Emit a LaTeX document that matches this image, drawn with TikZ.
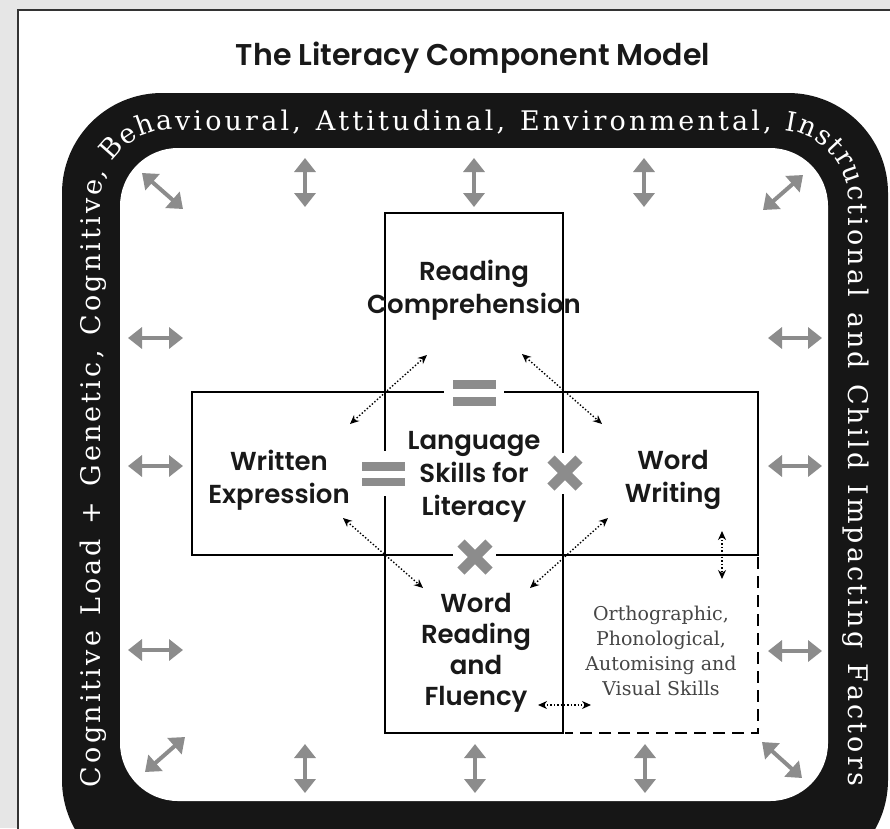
\documentclass[tikz,border=0pt]{standalone}
\usepackage{fontspec}
\usetikzlibrary{arrows.meta,decorations.text}
\IfFontExistsTF{Poppins SemiBold}{\newfontfamily\gothic{Poppins SemiBold}}{\newfontfamily\gothic{Poppins}[UprightFont={* Bold}]}
\newfontfamily\bandfont[WordSpace=2.2]{DejaVu Serif}
\newfontfamily\orthofont{DejaVu Serif}
\definecolor{arrowgray}{RGB}{140,140,140}
\definecolor{bandblack}{RGB}{22,22,22}
\definecolor{bggray}{RGB}{230,230,230}
\definecolor{orthogray}{RGB}{70,70,70}
\begin{document}
\begin{tikzpicture}[x=1pt,y=-1pt,
  lbl/.style={font=\gothic\fontsize{26}{33}\selectfont, align=center, inner sep=0pt, text=black!90},
  boxline/.style={line width=2.6pt, line cap=rect},
  garrow/.style={draw=arrowgray, line width=4pt, {Triangle[width=21pt,length=14pt]}-{Triangle[width=21pt,length=14pt]}},
  darrow/.style={dotted, line width=1.4pt, {Stealth[length=9pt,width=8pt]}-{Stealth[length=9pt,width=8pt]}},
  symbar/.style={fill=arrowgray},
  crossarm/.style={draw=arrowgray, line width=10pt}
]
\useasboundingbox (0,0) rectangle (890,828);
\clip (0,0) rectangle (890,828);
% background and frame
\fill[bggray] (0,0) rectangle (890,828);
\fill[white] (18,10) rectangle (895,835);
\draw[line width=1.4pt, black!80] (18,835) -- (18,10) -- (895,10);
% title
\node[font=\gothic\fontsize{30}{34}\selectfont, inner sep=0pt, text=black!90] (title) at (473,58) {The Literacy Component Model};
% band
\fill[bandblack, rounded corners=100pt] (62,93) rectangle (888,880);
\fill[white, rounded corners=58pt] (120,148) rectangle (828,801);
\path[decorate, decoration={text along path,
   text={|\bandfont\fontsize{27}{27}\selectfont\color{white}|Cognitive Load + Genetic, Cognitive, Behavioural, Attitudinal, Environmental, Instructional and Child Impacting Factors},
   text align={fit to path}, raise=-9.5pt}]
   (91,787) [rounded corners=80pt] -- (91,120.5) -- (858,120.5) -- (858,786);
% gray arrows
\coordinate (t1a) at (305,158); \coordinate (t1b) at (305,207);
\coordinate (t2a) at (474,158); \coordinate (t2b) at (474,207);
\coordinate (t3a) at (644,158); \coordinate (t3b) at (644,207);
\coordinate (b1a) at (305,744); \coordinate (b1b) at (305,793);
\coordinate (b2a) at (475,744); \coordinate (b2b) at (475,793);
\coordinate (b3a) at (645,744); \coordinate (b3b) at (645,793);
\coordinate (l1a) at (128,338); \coordinate (l1b) at (183,338);
\coordinate (l2a) at (128,466); \coordinate (l2b) at (183,466);
\coordinate (l3a) at (128,650); \coordinate (l3b) at (183,650);
\coordinate (r1a) at (768,338); \coordinate (r1b) at (822,338);
\coordinate (r2a) at (768,466); \coordinate (r2b) at (822,466);
\coordinate (r3a) at (768,651); \coordinate (r3b) at (822,651);
\coordinate (c1a) at (142,173); \coordinate (c1b) at (183,209);
\coordinate (c2a) at (763,210); \coordinate (c2b) at (803,175);
\coordinate (c3a) at (145,772); \coordinate (c3b) at (185,737);
\coordinate (c4a) at (762,742); \coordinate (c4b) at (802,778);
\foreach \p in {t1,t2,t3,b1,b2,b3,l1,l2,l3,r1,r2,r3,c1,c2,c3,c4}
  \draw[garrow] (\p a) -- (\p b);
% cross outline
\draw[boxline] (385,213) -- (563,213);
\draw[boxline] (385,213) -- (385,450);
\draw[boxline] (385,497) -- (385,733);
\draw[boxline] (563,213) -- (563,452);
\draw[boxline] (563,495) -- (563,733);
\draw[boxline] (385,733) -- (563,733);
\draw[boxline] (192,392) -- (192,555);
\draw[boxline] (192,392) -- (443,392);
\draw[boxline] (505,392) -- (758,392);
\draw[boxline] (192,555) -- (452,555);
\draw[boxline] (497,555) -- (758,555);
\draw[boxline] (758,392) -- (758,555);
% dashed box
\draw[line width=2.2pt, dash pattern=on 12pt off 7pt] (758,557) -- (758,733) -- (565,733);
% equals and crosses
\fill[symbar] (453,380) rectangle (496,388.5);
\fill[symbar] (453,397) rectangle (496,405.5);
\fill[symbar] (362,462) rectangle (405,470.5);
\fill[symbar] (362,477.5) rectangle (405,486);
\draw[crossarm] (551,459) -- (579,487);
\draw[crossarm] (551,487) -- (579,459);
\draw[crossarm] (461,543) -- (489,571);
\draw[crossarm] (461,571) -- (489,543);
% dotted arrows
\coordinate (d1a) at (350,424); \coordinate (d1b) at (427,355);
\coordinate (d2a) at (522,354); \coordinate (d2b) at (602,424);
\coordinate (d3a) at (343,518); \coordinate (d3b) at (423,588);
\coordinate (d4a) at (608,518); \coordinate (d4b) at (530,588);
\coordinate (d5a) at (722,531); \coordinate (d5b) at (722,579);
\coordinate (d6a) at (538,705); \coordinate (d6b) at (591,705);
\foreach \p in {d1,d2,d3,d4,d5,d6}
  \draw[darrow] (\p a) -- (\p b);
% labels
\node[lbl] (rc) at (474,290) {Reading\\Comprehension};
\node[lbl] (ls) at (474,477) {Language\\Skills for\\Literacy};
\node[lbl] (we) at (279,480) {Written\\Expression};
\node[lbl] (ww) at (673,480) {Word\\Writing};
\node[lbl, font=\gothic\fontsize{26}{31}\selectfont] (wrf) at (476,653) {Word\\Reading\\and\\Fluency};
\node[font=\orthofont\fontsize{19}{25}\selectfont, text=orthogray, align=center, inner sep=0pt] (ortho) at (661,651) {Orthographic,\\Phonological,\\Automising and\\Visual Skills};
\end{tikzpicture}
\end{document}
